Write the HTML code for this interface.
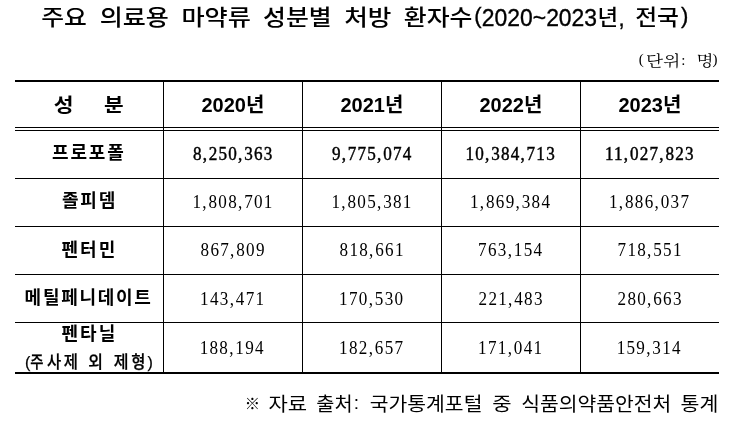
<!DOCTYPE html>
<html lang="ko">
<head>
<meta charset="utf-8">
<title>주요 의료용 마약류 성분별 처방 환자수</title>
<style>
html,body{margin:0;padding:0;background:#fff;}
body{width:733px;height:434px;position:relative;overflow:hidden;color:#000;}
.t{display:inline-block;width:0;vertical-align:top;white-space:nowrap;line-height:40px;transform-origin:0 0;}
.ln{position:absolute;background:#000;}
.l{position:absolute;left:0;top:0;font-size:0;line-height:0;white-space:nowrap;}
.title{font-family:"Noto Sans CJK KR",sans-serif;font-size:22px;font-weight:500;}
.titleL{font-family:"Liberation Sans","Noto Sans CJK KR",sans-serif;font-size:22px;font-weight:400;-webkit-text-stroke:0.35px #000;}
.titleD{font-family:"Liberation Sans","Noto Sans CJK KR",sans-serif;font-size:24px;font-weight:400;-webkit-text-stroke:0.35px #000;}
.unit{font-family:"Noto Serif CJK KR","Noto Serif CJK SC",serif;font-size:15px;font-weight:400;}
.hd{font-family:"Noto Sans CJK KR",sans-serif;font-size:19px;font-weight:700;}
.hdn{font-family:"Liberation Sans","Noto Sans CJK KR",sans-serif;font-size:20px;font-weight:700;}
.lb{font-family:"Noto Sans CJK KR",sans-serif;font-size:18px;font-weight:700;}
.lb2{font-family:"Noto Sans CJK KR",sans-serif;font-size:17px;font-weight:500;-webkit-text-stroke:0.25px #000;}
.lb2L{font-family:"Liberation Sans","Noto Sans CJK KR",sans-serif;font-size:16px;font-weight:400;-webkit-text-stroke:0.25px #000;}
.n1{font-family:"Liberation Serif","Noto Serif CJK KR","Noto Serif CJK SC",serif;font-size:19px;font-weight:400;-webkit-text-stroke:0.45px #000;letter-spacing:1.35px;}
.n{font-family:"Liberation Serif","Noto Serif CJK KR","Noto Serif CJK SC",serif;font-size:19px;font-weight:400;letter-spacing:1.45px;}
.kome{font-family:"Noto Sans CJK KR",sans-serif;font-size:15px;font-weight:300;}
.foot{font-family:"Noto Sans CJK KR",sans-serif;font-size:19px;font-weight:400;}
.footL{font-family:"Liberation Sans","Noto Sans CJK KR",sans-serif;font-size:19px;font-weight:400;}
.unitL{font-family:"Liberation Serif","Noto Serif CJK KR","Noto Serif CJK SC",serif;font-size:15px;font-weight:400;}
</style>
</head>
<body>
<div class="ln" style="left:15px;top:80px;width:704px;height:2px"></div>
<div class="ln" style="left:15px;top:127px;width:704px;height:1px"></div>
<div class="ln" style="left:15px;top:130px;width:704px;height:1px"></div>
<div class="ln" style="left:15px;top:178px;width:704px;height:1px"></div>
<div class="ln" style="left:15px;top:226px;width:704px;height:1px"></div>
<div class="ln" style="left:15px;top:274px;width:704px;height:1px"></div>
<div class="ln" style="left:15px;top:322px;width:704px;height:1px"></div>
<div class="ln" style="left:15px;top:372px;width:704px;height:2px"></div>
<div class="ln" style="left:163px;top:82px;width:1px;height:290px"></div>
<div class="ln" style="left:302px;top:82px;width:1px;height:290px"></div>
<div class="ln" style="left:441px;top:82px;width:1px;height:290px"></div>
<div class="ln" style="left:580px;top:82px;width:1px;height:290px"></div>
<div class="l"><span class="t title" style="transform:translate(41.27px,-5.18px) scaleX(1.1282);">주요</span> <span class="t title" style="transform:translate(99.66px,-5.18px) scaleX(1.1390);">의료용</span> <span class="t title" style="transform:translate(181.41px,-5.18px) scaleX(1.1431);">마약류</span> <span class="t title" style="transform:translate(263.07px,-5.18px) scaleX(1.1293);">성분별</span> <span class="t title" style="transform:translate(344.23px,-5.18px) scaleX(1.1667);">처방</span> <span class="t title" style="transform:translate(403.77px,-5.18px) scaleX(1.1305);">환자수</span><span class="t titleL" style="transform:translate(474.20px,-4.10px);">(</span><span class="t titleD" style="transform:translate(481.85px,-2.05px) scaleX(0.9538);">2020~2023</span><span class="t title" style="transform:translate(597.56px,-5.18px) scaleX(1.0187);">년</span><span class="t titleL" style="transform:translate(618.40px,-1.25px);">,</span> <span class="t title" style="transform:translate(635.22px,-5.18px) scaleX(1.0821);">전국</span><span class="t titleL" style="transform:translate(680.90px,-3.95px);">)</span></div>
<div class="l"><span class="t unitL" style="transform:translate(638.70px,39.25px);">(</span><span class="t unit" style="transform:translate(646.12px,40.05px) scaleX(1.1808);">단위</span><span class="t unitL" style="transform:translate(681.30px,40.00px);">:</span> <span class="t unit" style="transform:translate(696.43px,40.05px) scaleX(1.1727);">명</span><span class="t unitL" style="transform:translate(712.60px,38.75px);">)</span></div>
<div class="l"><span class="t hd" style="transform:translate(53.87px,83.50px) scaleX(1.1333);">성</span> <span class="t hd" style="transform:translate(103.88px,83.50px) scaleX(1.1250);">분</span></div>
<div class="l"><span class="t hdn" style="transform:translate(201.50px,85.35px);">2020년</span></div>
<div class="l"><span class="t hdn" style="transform:translate(340.50px,85.35px);">2021년</span></div>
<div class="l"><span class="t hdn" style="transform:translate(479.50px,85.35px);">2022년</span></div>
<div class="l"><span class="t hdn" style="transform:translate(618.50px,85.35px);">2023년</span></div>
<div class="l"><span class="t lb" style="transform:translate(52.00px,130.50px);letter-spacing:1.83px;">프로포폴</span></div>
<div class="l"><span class="t lb" style="transform:translate(61.90px,179.25px);letter-spacing:1.85px;">졸피뎀</span></div>
<div class="l"><span class="t lb" style="transform:translate(61.50px,227.60px);letter-spacing:2.05px;">펜터민</span></div>
<div class="l"><span class="t lb" style="transform:translate(24.60px,276.00px);letter-spacing:1.73px;">메틸페니데이트</span></div>
<div class="l"><span class="t lb" style="transform:translate(61.50px,311.65px);letter-spacing:2.05px;">펜타닐</span></div>
<div class="l"><span class="t lb2L" style="transform:translate(25.10px,342.80px);">(</span><span class="t lb2" style="transform:translate(30.15px,340.85px) scaleX(0.8500);">주</span><span class="t lb2" style="transform:translate(46.89px,340.85px) scaleX(0.9071);">사</span><span class="t lb2" style="transform:translate(63.69px,340.85px) scaleX(0.9077);">제</span> <span class="t lb2" style="transform:translate(88.26px,340.85px) scaleX(0.9385);">외</span> <span class="t lb2" style="transform:translate(113.75px,340.85px) scaleX(0.9462);">제</span><span class="t lb2" style="transform:translate(131.19px,340.85px) scaleX(0.9077);">형</span><span class="t lb2L" style="transform:translate(147.50px,342.55px);">)</span></div>
<div class="l"><span class="t n1" style="transform:translate(192.90px,133.90px) scaleX(0.9000);">8<span style="letter-spacing:2.05px">,</span>250<span style="letter-spacing:2.05px">,</span>363</span></div>
<div class="l"><span class="t n1" style="transform:translate(331.90px,133.90px) scaleX(0.9000);">9<span style="letter-spacing:2.05px">,</span>775<span style="letter-spacing:2.05px">,</span>074</span></div>
<div class="l"><span class="t n1" style="transform:translate(465.50px,133.90px) scaleX(0.9000);">10<span style="letter-spacing:2.05px">,</span>384<span style="letter-spacing:2.05px">,</span>713</span></div>
<div class="l"><span class="t n1" style="transform:translate(604.95px,133.90px) scaleX(0.9000);">11<span style="letter-spacing:2.05px">,</span>027<span style="letter-spacing:2.05px">,</span>823</span></div>
<div class="l"><span class="t n" style="transform:translate(192.45px,182.00px) scaleX(0.9000);">1<span style="letter-spacing:2.05px">,</span>808<span style="letter-spacing:2.05px">,</span>701</span></div>
<div class="l"><span class="t n" style="transform:translate(331.45px,182.00px) scaleX(0.9000);">1<span style="letter-spacing:2.05px">,</span>805<span style="letter-spacing:2.05px">,</span>381</span></div>
<div class="l"><span class="t n" style="transform:translate(470.00px,182.00px) scaleX(0.9000);">1<span style="letter-spacing:2.05px">,</span>869<span style="letter-spacing:2.05px">,</span>384</span></div>
<div class="l"><span class="t n" style="transform:translate(609.00px,182.00px) scaleX(0.9000);">1<span style="letter-spacing:2.05px">,</span>886<span style="letter-spacing:2.05px">,</span>037</span></div>
<div class="l"><span class="t n" style="transform:translate(200.55px,230.10px) scaleX(0.9000);">867<span style="letter-spacing:2.05px">,</span>809</span></div>
<div class="l"><span class="t n" style="transform:translate(339.55px,230.10px) scaleX(0.9000);">818<span style="letter-spacing:2.05px">,</span>661</span></div>
<div class="l"><span class="t n" style="transform:translate(478.10px,230.10px) scaleX(0.9000);">763<span style="letter-spacing:2.05px">,</span>154</span></div>
<div class="l"><span class="t n" style="transform:translate(617.55px,230.10px) scaleX(0.9000);">718<span style="letter-spacing:2.05px">,</span>551</span></div>
<div class="l"><span class="t n" style="transform:translate(200.10px,279.00px) scaleX(0.9000);">143<span style="letter-spacing:2.05px">,</span>471</span></div>
<div class="l"><span class="t n" style="transform:translate(339.10px,279.00px) scaleX(0.9000);">170<span style="letter-spacing:2.05px">,</span>530</span></div>
<div class="l"><span class="t n" style="transform:translate(478.55px,279.00px) scaleX(0.9000);">221<span style="letter-spacing:2.05px">,</span>483</span></div>
<div class="l"><span class="t n" style="transform:translate(617.55px,279.00px) scaleX(0.9000);">280<span style="letter-spacing:2.05px">,</span>663</span></div>
<div class="l"><span class="t n" style="transform:translate(199.65px,328.00px) scaleX(0.9000);">188<span style="letter-spacing:2.05px">,</span>194</span></div>
<div class="l"><span class="t n" style="transform:translate(339.10px,328.00px) scaleX(0.9000);">182<span style="letter-spacing:2.05px">,</span>657</span></div>
<div class="l"><span class="t n" style="transform:translate(478.10px,328.00px) scaleX(0.9000);">171<span style="letter-spacing:2.05px">,</span>041</span></div>
<div class="l"><span class="t n" style="transform:translate(616.65px,328.00px) scaleX(0.9000);">159<span style="letter-spacing:2.05px">,</span>314</span></div>
<div class="l"><span class="t kome" style="transform:translate(244.76px,382.90px) scaleX(1.0182);">※</span> <span class="t foot" style="transform:translate(268.39px,383.20px) scaleX(1.1061);">자료</span> <span class="t foot" style="transform:translate(316.36px,383.20px) scaleX(1.0375);">출처</span><span class="t footL" style="transform:translate(353.80px,383.05px);">:</span> <span class="t foot" style="transform:translate(369.73px,383.20px) scaleX(1.0745);">국가통계포털</span> <span class="t foot" style="transform:translate(492.19px,383.20px) scaleX(1.1062);">중</span> <span class="t foot" style="transform:translate(521.23px,383.20px) scaleX(1.0735);">식품의약품안전처</span> <span class="t foot" style="transform:translate(680.62px,383.20px) scaleX(1.0812);">통계</span></div>
</body>
</html>
